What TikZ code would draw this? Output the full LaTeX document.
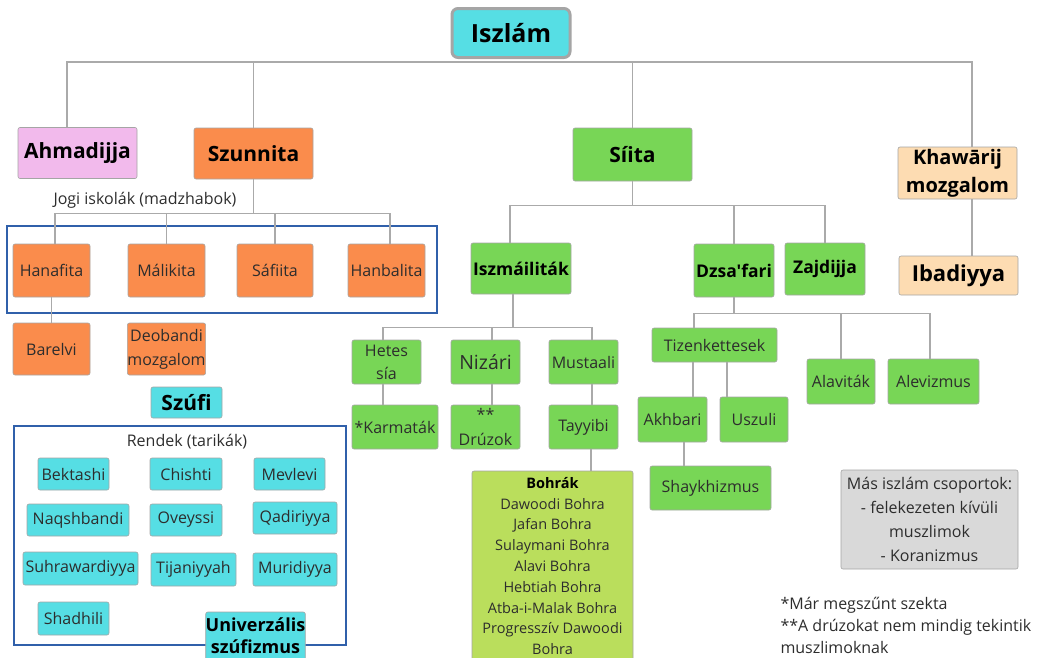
\documentclass[tikz,border=0pt]{standalone}
\usepackage{fontspec}
\setmainfont{Open Sans}[Ligatures=TeXOff]

\definecolor{cyanbox}{RGB}{86,222,228}
\definecolor{orangebox}{RGB}{250,140,76}
\definecolor{greenbox}{RGB}{120,214,86}
\definecolor{pinkbox}{RGB}{242,186,236}
\definecolor{peachbox}{RGB}{253,220,178}
\definecolor{limebox}{RGB}{186,222,92}
\definecolor{graybox}{RGB}{217,217,217}
\definecolor{boxline}{RGB}{165,165,165}
\definecolor{linegray}{RGB}{170,170,170}
\definecolor{frameblue}{RGB}{48,96,170}
\definecolor{txtgray}{RGB}{45,45,45}

\tikzset{
  box/.style={draw=boxline, line width=0.6pt, rounded corners=2pt, inner sep=0pt,
    align=center, text=txtgray, font={\fontsize{16}{23}\selectfont}},
  headtxt/.style={text=black, font={\bfseries\fontsize{21}{26}\selectfont}},
  subtxt/.style={text=black, font={\bfseries\fontsize{17.5}{22}\selectfont}},
  sz/.style 2 args={minimum width=#1pt, minimum height=#2pt},
  conn/.style={draw=linegray, line width=1.4pt},
  framebox/.style={draw=frameblue, line width=1.5pt},
}

\begin{document}
\begin{tikzpicture}[x=1pt, y=-1pt]
\useasboundingbox (0,0) rectangle (1043,657);

% frames
\draw[framebox] (7,226) rectangle (437,313);
\draw[framebox] (14,426) rectangle (346,645);

% top level
\node[box, fill=cyanbox, draw=boxline, line width=3pt, rounded corners=6pt, sz={118}{49},
  text=black, font={\bfseries\fontsize{25}{30}\selectfont}] (iszlam) at (511,33) {Iszlám};
\node[box, headtxt, fill=pinkbox, sz={119}{51}] (ahmad) at (77.5,153) {Ahmadijja};
\node[box, headtxt, fill=orangebox, sz={119}{51}] (szunnita) at (253.5,153.5) {Szunnita};
\node[box, headtxt, fill=greenbox, sz={119}{53}] (siita) at (632.5,154.5) {Síita};
\node[box, headtxt, fill=peachbox, sz={119}{52}, font={\bfseries\fontsize{20}{28}\selectfont}]
  (khawarij) at (957.5,173) {Khawārij\\mozgalom};
\node[box, headtxt, fill=peachbox, sz={119}{39}, font={\bfseries\fontsize{22}{26}\selectfont}]
  (ibadiyya) at (958.5,275.5) {Ibadiyya};

% szunnita
\node[text=txtgray, font={\fontsize{16}{20}\selectfont}] (jogi) at (145,200) {Jogi iskolák (madzhabok)};
\node[box, fill=orangebox, sz={77}{53}] (hanafita) at (51.5,270.5) {Hanafita};
\node[box, fill=orangebox, sz={77}{53}] (malikita) at (166.5,270.5) {Málikita};
\node[box, fill=orangebox, sz={76}{53}] (safiita) at (275,270.5) {Sáfiita};
\node[box, fill=orangebox, sz={77}{53}] (hanbalita) at (386.5,270.5) {Hanbalita};
\node[box, fill=orangebox, sz={77}{52}] (barelvi) at (51.5,349) {Barelvi};
\node[box, fill=orangebox, sz={77}{52}, font={\fontsize{16}{24}\selectfont}]
  (deobandi) at (166.5,349) {Deobandi\\mozgalom};

% szufi
\node[box, headtxt, fill=cyanbox, sz={71}{31}] (szufi) at (186.5,402.5) {Szúfi};
\node[text=txtgray, font={\fontsize{16}{20}\selectfont}] (rendek) at (187,442) {Rendek (tarikák)};
\node[box, fill=cyanbox, sz={71}{32}] (bektashi) at (73.5,474) {Bektashi};
\node[box, fill=cyanbox, sz={72}{32}] (chishti) at (186,474) {Chishti};
\node[box, fill=cyanbox, sz={71}{32}] (mevlevi) at (289.5,474) {Mevlevi};
\node[box, fill=cyanbox, sz={102}{32}] (naqsh) at (78,520) {Naqshbandi};
\node[box, fill=cyanbox, sz={72}{32}] (oveyssi) at (186,520) {Oveyssi};
\node[box, fill=cyanbox, sz={84}{32}] (qadiri) at (295,518) {Qadiriyya};
\node[box, fill=cyanbox, sz={115}{33}] (suhra) at (80.5,568.5) {Suhrawardiyya};
\node[box, fill=cyanbox, sz={85}{33}] (tijani) at (193.5,569.5) {Tijaniyyah};
\node[box, fill=cyanbox, sz={84}{33}] (muridi) at (295,569.5) {Muridiyya};
\node[box, fill=cyanbox, sz={71}{33}] (shadhili) at (73.5,618.5) {Shadhili};
\node[box, fill=cyanbox, sz={99}{48}, text=black, font={\bfseries\fontsize{18}{22}\selectfont}]
  (univ) at (255.5,636) {Univerzális\\szúfizmus};

% siita
\node[box, subtxt, fill=greenbox, sz={100}{51}] (iszmail) at (521,268.5) {Iszmáiliták};
\node[box, subtxt, fill=greenbox, sz={80}{53}] (dzsafari) at (734,270.5) {Dzsa'fari};
\node[box, subtxt, fill=greenbox, sz={80}{52}] (zajdijja) at (825,269) {Zajdijja};
\node[box, fill=greenbox, sz={69}{44}] (hetes) at (386.5,362) {Hetes\\sía};
\node[box, fill=greenbox, sz={69}{44}, font={\fontsize{19.5}{23}\selectfont}] (nizari) at (485.5,362) {Nizári};
\node[box, fill=greenbox, sz={69}{44}] (mustaali) at (583.5,362) {Mustaali};
\node[box, fill=greenbox, sz={86}{44}] (karmatak) at (395,427) {*Karmaták};
\node[box, fill=greenbox, sz={69}{44}, font={\fontsize{16}{25}\selectfont}] (druzok) at (485.5,427) {**\\Drúzok};
\node[box, fill=greenbox, sz={69}{44}] (tayyibi) at (583.5,427) {Tayyibi};
\node[box, fill=limebox, sz={161}{190}, font={\fontsize{14.5}{20.8}\selectfont}] (bohrak) at (552.5,566)
  {\textbf{\color{black}Bohrák}\\Dawoodi Bohra\\Jafan Bohra\\Sulaymani Bohra\\Alavi Bohra\\Hebtiah Bohra\\Atba-i-Malak Bohra\\Progresszív Dawoodi\\Bohra};
\node[box, fill=greenbox, sz={125}{34}] (tizenk) at (714.5,345) {Tizenkettesek};
\node[box, fill=greenbox, sz={68}{45}] (alavitak) at (841,381.5) {Alaviták};
\node[box, fill=greenbox, sz={91}{45}] (alevizmus) at (933.5,381.5) {Alevizmus};
\node[box, fill=greenbox, sz={69}{45}] (akhbari) at (672.5,419.5) {Akhbari};
\node[box, fill=greenbox, sz={68}{45}] (uszuli) at (754,419.5) {Uszuli};
\node[box, fill=greenbox, sz={121}{44}] (shaykh) at (710.5,488) {Shaykhizmus};

% other groups and notes
\node[box, fill=graybox, sz={177}{99}, font={\fontsize{16}{24}\selectfont}] (mas) at (929.5,519.5)
  {Más iszlám csoportok:\\- felekezeten kívüli\\muszlimok\\- Koranizmus};
\node[anchor=west, align=left, text=txtgray, font={\fontsize{16}{22}\selectfont}] (notes) at (777,625)
  {*Már megszűnt szekta\\**A drúzokat nem mindig tekintik\\muszlimoknak};

% connectors
\draw[conn] (iszlam.south) ++(0,3) -| ([xshift=-10.5pt]ahmad.north);
\draw[conn] (iszlam.south) ++(0,3) -| (szunnita.north);
\draw[conn] (iszlam.south) ++(0,3) -| (siita.north);
\draw[conn] (iszlam.south) ++(0,3) -| ([xshift=14.5pt]khawarij.north);
\draw[conn] ([xshift=14.5pt]khawarij.south) -- ([xshift=14.5pt]khawarij.south |- ibadiyya.north);

\draw[conn] (szunnita.south) -- ++(0,34) -| ([xshift=3.5pt]hanafita.north);
\draw[conn] (szunnita.south) -- ++(0,34) -| (malikita.north);
\draw[conn] (szunnita.south) -- ++(0,34) -| (safiita.north);
\draw[conn] (szunnita.south) -- ++(0,34) -| ([xshift=3.5pt]hanbalita.north);
\draw[conn] (hanafita.south) -- (barelvi.north);

\draw[conn] (siita.south) -- ++(0,24) -| ([xshift=-11pt]iszmail.north);
\draw[conn] (siita.south) -- ++(0,24) -| (dzsafari.north);
\draw[conn] (siita.south) -- ++(0,24) -| (zajdijja.north);

\draw[conn] ([xshift=-8pt]iszmail.south) -- ++(0,33) -| ([xshift=-3.5pt]hetes.north);
\draw[conn] ([xshift=-8pt]iszmail.south) -- ++(0,33) -| ([xshift=6.5pt]nizari.north);
\draw[conn] ([xshift=-8pt]iszmail.south) -- ++(0,33) -| ([xshift=8.5pt]mustaali.north);
\draw[conn] ([xshift=-3.5pt]hetes.south) -- ([xshift=-3.5pt]hetes.south |- karmatak.north);
\draw[conn] ([xshift=6.5pt]nizari.south) -- ([xshift=6.5pt]nizari.south |- druzok.north);
\draw[conn] ([xshift=8.5pt]mustaali.south) -- ([xshift=8.5pt]mustaali.south |- tayyibi.north);
\draw[conn] ([xshift=7.5pt]tayyibi.south) -- ([xshift=7.5pt]tayyibi.south |- bohrak.north);

\draw[conn] (dzsafari.south) -- ++(0,16) -| ([xshift=-20.5pt]tizenk.north);
\draw[conn] (dzsafari.south) -- ++(0,16) -| (alavitak.north);
\draw[conn] (dzsafari.south) -- ++(0,16) -| ([xshift=-3.5pt]alevizmus.north);
\draw[conn] ([xshift=-21.5pt]tizenk.south) -- ([xshift=-21.5pt]tizenk.south |- akhbari.north);
\draw[conn] ([xshift=12.5pt]tizenk.south) -- ([xshift=12.5pt]tizenk.south |- uszuli.north);
\draw[conn] ([xshift=11.5pt]akhbari.south) -- ([xshift=11.5pt]akhbari.south |- shaykh.north);
\end{tikzpicture}
\end{document}
